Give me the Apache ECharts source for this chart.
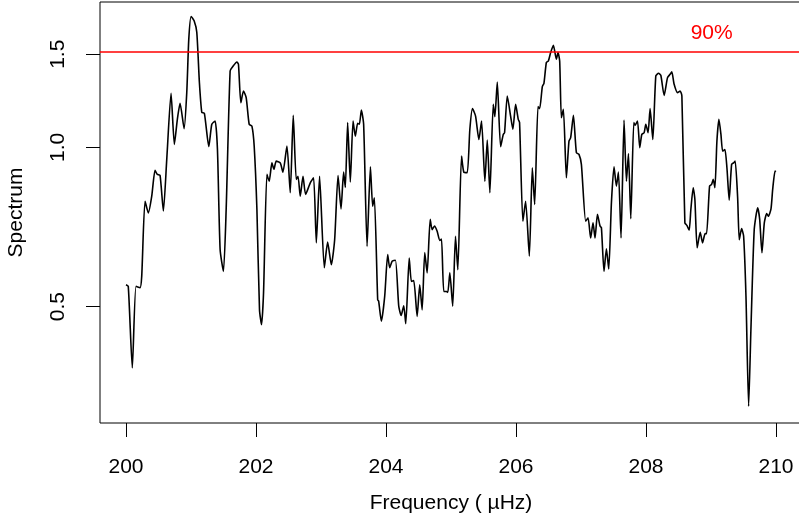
<!DOCTYPE html>
<html>
<head>
<meta charset="utf-8">
<script src="https://cdn.jsdelivr.net/npm/echarts@6/dist/echarts.min.js"></script>
<style>
  html, body { margin: 0; padding: 0; background: #fff; }
  #chart { width: 799px; height: 523px; }
</style>
</head>
<body>
<div id="chart"></div>
<script>
// frequency (µHz)
const freq = [
  200.000, 200.035, 200.097, 200.154, 200.216, 200.242, 200.293, 200.344, 200.396, 200.447,
  200.482, 200.524, 200.575, 200.627, 200.693, 200.744, 200.790, 200.832, 200.894, 200.935,
  200.966, 201.002, 201.048, 201.089, 201.129, 201.166, 201.206, 201.274, 201.320, 201.371,
  201.407, 201.448, 201.499, 201.541, 201.602, 201.644, 201.706, 201.730, 201.767, 201.807,
  201.849, 201.895, 201.937, 201.972, 202.014, 202.054, 202.085, 202.116, 202.168, 202.203,
  202.245, 202.276, 202.311, 202.373, 202.414, 202.476, 202.527, 202.573, 202.619, 202.646,
  202.681, 202.723, 202.763, 202.835, 202.886, 202.928, 202.978, 203.051, 203.102, 203.159,
  203.210, 203.262, 203.308, 203.348, 203.374, 203.410, 203.451, 203.493, 203.528, 203.564,
  203.590, 203.621, 203.656, 203.709, 203.760, 203.795, 203.821, 203.872, 203.887, 203.929,
  203.980, 204.026, 204.057, 204.094, 204.145, 204.196, 204.233, 204.273, 204.304, 204.357,
  204.391, 204.427, 204.479, 204.519, 204.556, 204.596, 204.633, 204.680, 204.710, 204.746,
  204.787, 204.827, 204.854, 204.889, 204.931, 204.951, 204.982, 205.026, 205.069, 205.105,
  205.162, 205.197, 205.250, 205.290, 205.331, 205.378, 205.429, 205.470, 205.521, 205.558,
  205.598, 205.650, 205.675, 205.712, 205.763, 205.804, 205.824, 205.866, 205.917, 205.952,
  205.994, 206.035, 206.055, 206.106, 206.148, 206.205, 206.251, 206.287, 206.338, 206.364,
  206.405, 206.430, 206.467, 206.498, 206.533, 206.575, 206.621, 206.646, 206.672, 206.698,
  206.729, 206.775, 206.815, 206.841, 206.883, 206.929, 206.969, 207.006, 207.072, 207.108,
  207.149, 207.185, 207.216, 207.253, 207.293, 207.314, 207.354, 207.391, 207.427, 207.468,
  207.508, 207.545, 207.576, 207.616, 207.662, 207.699, 207.730, 207.766, 207.812, 207.832,
  207.869, 207.904, 207.935, 207.971, 207.997, 208.032, 208.063, 208.105, 208.151, 208.193,
  208.228, 208.279, 208.331, 208.371, 208.397, 208.433, 208.485, 208.525, 208.552, 208.598,
  208.629, 208.664, 208.690, 208.726, 208.752, 208.787, 208.834, 208.870, 208.910, 208.932,
  208.978, 209.009, 209.034, 209.060, 209.091, 209.122, 209.153, 209.179, 209.214, 209.245,
  209.280, 209.317, 209.348, 209.372, 209.410, 209.435, 209.471, 209.502, 209.538, 209.579,
  209.614, 209.665, 209.718, 209.749, 209.784, 209.820, 209.857, 209.882, 209.923, 209.949,
  209.985, 210.000
];

// spectrum value at each frequency
const spectrum = [
  0.550, 0.546, 0.383, 0.546, 0.543, 0.571, 0.791, 0.752, 0.809, 0.905,
  0.889, 0.885, 0.758, 0.949, 1.265, 1.013, 1.130, 1.211, 1.085, 1.271,
  1.602, 1.768, 1.735, 1.651, 1.328, 1.165, 1.160, 1.004, 1.106, 1.122,
  0.991, 0.641, 0.583, 0.763, 1.395, 1.422, 1.450, 1.436, 1.215, 1.278,
  1.242, 1.106, 1.097, 1.006, 0.763, 0.493, 0.462, 0.531, 0.889, 0.863,
  0.935, 0.909, 0.942, 0.935, 0.898, 1.006, 0.821, 1.150, 0.870, 0.882,
  0.809, 0.882, 0.815, 0.857, 0.876, 0.660, 0.882, 0.592, 0.662, 0.600,
  0.669, 0.885, 0.765, 0.898, 0.840, 1.114, 0.860, 1.122, 1.050, 1.110,
  1.106, 1.177, 1.106, 0.650, 0.919, 0.774, 0.803, 0.515, 0.512, 0.469,
  0.523, 0.627, 0.592, 0.609, 0.612, 0.501, 0.481, 0.502, 0.464, 0.618,
  0.558, 0.560, 0.479, 0.550, 0.493, 0.633, 0.579, 0.731, 0.699, 0.710,
  0.694, 0.667, 0.671, 0.534, 0.534, 0.532, 0.579, 0.501, 0.679, 0.587,
  0.963, 0.898, 0.896, 1.082, 1.184, 1.146, 1.035, 1.122, 0.863, 1.032,
  0.821, 1.206, 1.143, 1.329, 1.003, 1.058, 1.066, 1.251, 1.146, 1.082,
  1.206, 1.130, 1.114, 0.725, 0.791, 0.623, 0.915, 0.780, 1.194, 1.184,
  1.303, 1.322, 1.447, 1.457, 1.511, 1.560, 1.468, 1.511, 1.457, 1.138,
  1.180, 0.876, 1.028, 1.043, 1.150, 0.977, 0.970, 0.929, 0.725, 0.736,
  0.674, 0.720, 0.674, 0.747, 0.710, 0.705, 0.583, 0.643, 0.589, 0.786,
  0.919, 0.845, 0.898, 0.674, 1.126, 0.863, 0.974, 0.733, 1.114, 1.101,
  1.122, 0.999, 1.058, 1.066, 1.106, 1.066, 1.184, 1.035, 1.365, 1.381,
  1.369, 1.254, 1.355, 1.375, 1.389, 1.316, 1.269, 1.278, 1.251, 0.720,
  0.712, 0.697, 0.763, 0.839, 0.797, 0.646, 0.691, 0.660, 0.687, 0.687,
  0.845, 0.851, 0.870, 0.839, 1.028, 1.130, 1.058, 0.984, 0.991, 0.915,
  0.795, 0.929, 0.935, 0.942, 0.803, 0.669, 0.702, 0.679, 0.523, 0.324,
  0.452, 0.699, 0.769, 0.731, 0.632, 0.720, 0.750, 0.741, 0.765, 0.833,
  0.902, 0.900
];

const xTicks = [200, 202, 204, 206, 208, 210];
const yTicks = [0.5, 1.0, 1.5];   // log scale
const level90 = 1.5;              // 90% significance level
const level90Label = '90%';
const level90LabelAt = [209.01, 1.644];

const FONT = '"Liberation Sans", Arial, Helvetica, sans-serif';

// y is plotted on a log10 scale, like R's log = "y"
const lg = v => Math.log10(v);

const chart = echarts.init(document.getElementById('chart'));

const option = {
  backgroundColor: '#fff',
  animation: false,
  textStyle: { fontFamily: FONT },
  grid: {
    left: 100,
    top: 2,
    width: 702,
    height: 421,
    outerBoundsMode: 'none',
    containLabel: false,
    show: true,
    borderColor: '#000',
    borderWidth: 1,
    backgroundColor: 'transparent'
  },
  xAxis: {
    type: 'value',
    min: 199.6,
    max: 210.4,
    name: 'Frequency ( \u00b5Hz)',
    nameLocation: 'middle',
    nameGap: 70,
    nameTextStyle: { color: '#000', fontSize: 21, fontFamily: FONT },
    axisLine: { show: false, onZero: false },
    splitLine: { show: false },
    axisTick: {
      show: true,
      inside: false,
      length: 14,
      customValues: xTicks,
      lineStyle: { color: '#000', width: 1 }
    },
    axisLabel: {
      customValues: xTicks,
      color: '#000',
      fontSize: 21,
      fontFamily: FONT,
      margin: 34,
      formatter: v => String(v)
    }
  },
  yAxis: {
    type: 'value',
    min: -0.5211,
    max: 0.2749,
    name: 'Spectrum',
    nameLocation: 'middle',
    nameGap: 73,
    nameTextStyle: { color: '#000', fontSize: 21, fontFamily: FONT },
    axisLine: { show: false, onZero: false },
    splitLine: { show: false },
    axisTick: {
      show: true,
      inside: false,
      length: 14,
      customValues: yTicks.map(lg),
      lineStyle: { color: '#000', width: 1 }
    },
    axisLabel: {
      customValues: yTicks.map(lg),
      color: '#000',
      fontSize: 21,
      fontFamily: FONT,
      rotate: 90,
      margin: 31,
      formatter: v => Math.pow(10, v).toFixed(1)
    }
  },
  series: [
    {
      name: 'Spectrum',
      type: 'line',
      data: freq.map((f, i) => [f, lg(spectrum[i])]),
      showSymbol: false,
      smooth: 0.2,
      lineStyle: { color: '#000', width: 1.6 },
      itemStyle: { color: '#000' },
      markLine: {
        silent: true,
        symbol: 'none',
        label: { show: false },
        lineStyle: { color: '#ff0000', width: 1.5, type: 'solid' },
        data: [{ yAxis: lg(level90) }]
      },
      markPoint: {
        silent: true,
        symbol: 'circle',
        symbolSize: 0,
        label: {
          show: true,
          position: 'inside',
          color: '#ff0000',
          fontSize: 21,
          fontFamily: FONT,
          formatter: level90Label
        },
        data: [{ coord: [level90LabelAt[0], lg(level90LabelAt[1])] }]
      }
    }
  ]
};

chart.setOption(option);
</script>
</body>
</html>
